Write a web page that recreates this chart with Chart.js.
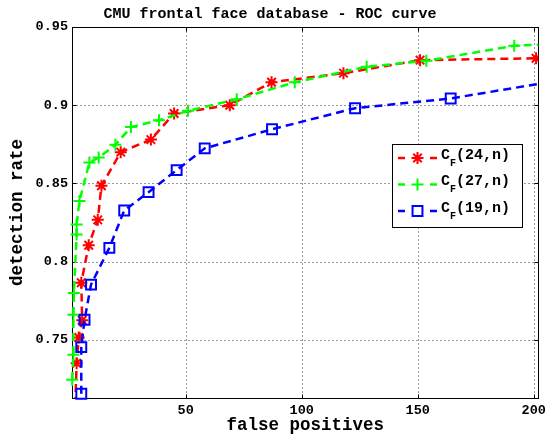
<!DOCTYPE html>
<html>
<head>
<meta charset="utf-8">
<title>CMU frontal face database - ROC curve</title>
<script src="https://cdn.jsdelivr.net/npm/chart.js@4.4.1/dist/chart.umd.min.js"></script>
<style>
  html, body { margin: 0; padding: 0; background: #fff; }
  #wrap { width: 550px; height: 440px; position: relative; }
</style>
</head>
<body>
<div id="wrap"><canvas id="roc"></canvas></div>
<script>
const FONT = "'Liberation Mono', 'DejaVu Sans Mono', monospace";

// C_F(24,n)
const fp24 = [2.2, 3.0, 3.9, 5.4, 5.0, 8.2, 12.1, 13.7, 22.0, 35.0, 45.0, 69.0, 87.0, 118.0, 151.0, 201.0];
const dr24 = [0.700, 0.735, 0.7515, 0.7625, 0.7865, 0.8105, 0.8267, 0.8485, 0.870, 0.878, 0.8947, 0.900, 0.9147, 0.9205, 0.9288, 0.930];

// C_F(27,n)
const fp27 = [1.1, 1.6, 1.6, 1.8, 3.0, 3.0, 4.2, 8.5, 12.5, 19.7, 26.4, 38.5, 51.0, 72.0, 97.0, 128.0, 153.7, 191.6, 215.0];
const dr27 = [0.7244, 0.7404, 0.766, 0.780, 0.8173, 0.8237, 0.8387, 0.8633, 0.8665, 0.8747, 0.886, 0.8904, 0.8964, 0.9038, 0.9146, 0.9246, 0.9284, 0.938, 0.9395];

// C_F(19,n)
const fp19 = [5.0, 5.0, 6.4, 9.2, 17.1, 23.5, 34.0, 46.1, 58.2, 87.2, 123.0, 164.2, 215.0];
const dr19 = [0.7155, 0.7453, 0.7628, 0.7853, 0.8088, 0.8327, 0.8444, 0.8585, 0.8724, 0.8846, 0.8981, 0.9043, 0.9168];

const X_TICKS = [50, 100, 150, 200];
const X_TICK_LABELS = ["50", "100", "150", "200"];
const Y_TICKS = [0.75, 0.8, 0.85, 0.9, 0.95];
const Y_TICK_LABELS = ["0.75", "0.8", "0.85", "0.9", "0.95"];

const LEGEND_BASE = "C";
const LEGEND_SUB = "F";
const LEGEND_ARGS = ["(24,n)", "(27,n)", "(19,n)"];

const pts = (xs, ys) => xs.map((x, i) => ({ x, y: ys[i] }));

function drawMarker(ctx, style, x, y, r, color) {
  ctx.save();
  ctx.strokeStyle = color;
  ctx.lineWidth = 2;
  ctx.beginPath();
  if (style === "rect") {
    const s = Math.SQRT1_2 * r;
    ctx.rect(x - s, y - s, 2 * s, 2 * s);
  } else {
    ctx.moveTo(x - r, y); ctx.lineTo(x + r, y);
    ctx.moveTo(x, y - r); ctx.lineTo(x, y + r);
    if (style === "star") {
      const d = r * Math.SQRT1_2;
      ctx.moveTo(x - d, y - d); ctx.lineTo(x + d, y + d);
      ctx.moveTo(x - d, y + d); ctx.lineTo(x + d, y - d);
    }
  }
  ctx.stroke();
  ctx.restore();
}

// dotted grid, axes box and inward tick marks, under the curves
const boxPlugin = {
  id: "axesBox",
  beforeDatasetsDraw(chart) {
    const { ctx, chartArea: a, scales } = chart;
    const L = Math.round(a.left) + 0.5, R = Math.round(a.right) + 0.5;
    const T = Math.round(a.top) + 0.5, B = Math.round(a.bottom) + 0.5;
    const xs = X_TICKS.map(v => Math.round(scales.x.getPixelForValue(v)) + 0.5);
    const ys = Y_TICKS.map(v => Math.round(scales.y.getPixelForValue(v)) + 0.5);
    ctx.save();
    ctx.lineWidth = 1;

    ctx.strokeStyle = "#333";
    ctx.setLineDash([1, 3]);
    ctx.beginPath();
    xs.forEach(px => { ctx.moveTo(px, T); ctx.lineTo(px, B); });
    ys.forEach(py => { ctx.moveTo(L, py); ctx.lineTo(R, py); });
    ctx.stroke();

    ctx.setLineDash([]);
    ctx.strokeStyle = "#000";
    ctx.strokeRect(L, T, R - L, B - T);
    ctx.beginPath();
    xs.forEach(px => {
      ctx.moveTo(px, B); ctx.lineTo(px, B - 4);
      ctx.moveTo(px, T); ctx.lineTo(px, T + 4);
    });
    ys.forEach(py => {
      ctx.moveTo(L, py); ctx.lineTo(L + 4, py);
      ctx.moveTo(R, py); ctx.lineTo(R - 4, py);
    });
    ctx.stroke();
    ctx.restore();
  }
};

// boxed legend with subscripted names
const legendPlugin = {
  id: "rocLegend",
  afterDraw(chart) {
    const ctx = chart.ctx;
    ctx.save();
    ctx.fillStyle = "#fff";
    ctx.fillRect(392, 145, 130, 83);
    ctx.strokeStyle = "#000";
    ctx.lineWidth = 1;
    ctx.strokeRect(392.5, 144.5, 130, 83);
    chart.data.datasets.forEach((ds, i) => {
      const cy = 158 + i * 26.5;
      ctx.strokeStyle = ds.borderColor;
      ctx.lineWidth = 2.5;
      ctx.beginPath();
      ctx.moveTo(398, cy); ctx.lineTo(405, cy);
      ctx.moveTo(430, cy); ctx.lineTo(437, cy);
      ctx.stroke();
      drawMarker(ctx, ds.pointStyle, 417.5, cy, ds.pointRadius, ds.borderColor);
      ctx.fillStyle = "#000";
      ctx.textBaseline = "middle";
      ctx.font = "bold 15px " + FONT;
      ctx.fillText(LEGEND_BASE, 441, cy - 3);
      ctx.font = "bold 10px " + FONT;
      ctx.fillText(LEGEND_SUB, 450, cy + 5);
      ctx.font = "bold 15px " + FONT;
      ctx.fillText(LEGEND_ARGS[i], 456, cy - 3);
    });
    ctx.restore();
  }
};

const common = {
  showLine: true,
  borderWidth: 2.5,
  borderDash: [8, 5],
  pointBorderWidth: 2,
  pointBackgroundColor: "rgba(0,0,0,0)",
  pointHoverRadius: 6
};

// grid and border come from the axesBox plugin
const hiddenGrid = { drawOnChartArea: false, drawTicks: false };

new Chart(document.getElementById("roc"), {
  type: "scatter",
  data: {
    datasets: [
      { ...common, label: "C_F(24,n)", data: pts(fp24, dr24), borderColor: "#ff0000",
        pointStyle: "star", pointRadius: 6, order: 3, clip: { left: 6, top: 6, right: 0, bottom: 0 } },
      { ...common, label: "C_F(27,n)", data: pts(fp27, dr27), borderColor: "#00ff00",
        pointStyle: "cross", pointRadius: 6, order: 2, clip: { left: 6, top: 6, right: 0, bottom: 6 } },
      { ...common, label: "C_F(19,n)", data: pts(fp19, dr19), borderColor: "#0000ff",
        pointStyle: "rect", pointRadius: 7, order: 1, clip: { left: 6, top: 6, right: 0, bottom: 8 } }
    ]
  },
  options: {
    responsive: true,
    maintainAspectRatio: false,
    animation: false,
    layout: { padding: { left: 0, right: 10, top: 0, bottom: 0 } },
    plugins: {
      legend: { display: false },
      tooltip: { enabled: false },
      title: {
        display: true,
        text: "CMU frontal face database - ROC curve",
        color: "#000",
        font: { family: FONT, size: 15, weight: "bold" },
        padding: { top: 5, bottom: 4 }
      }
    },
    scales: {
      x: {
        type: "linear",
        min: 1,
        max: 202,
        afterBuildTicks: s => { s.ticks = X_TICKS.map(v => ({ value: v })); },
        afterFit: s => { s.height = 42; },
        ticks: {
          color: "#000",
          padding: 4,
          maxRotation: 0,
          font: { family: FONT, size: 13.5, weight: "bold" },
          callback: v => X_TICK_LABELS[X_TICKS.indexOf(v)]
        },
        grid: hiddenGrid,
        border: { display: false },
        title: {
          display: true,
          text: "false positives",
          color: "#000",
          font: { family: FONT, size: 17.5, weight: "bold" },
          padding: { top: 0, bottom: 4 }
        }
      },
      y: {
        type: "linear",
        min: 0.7128,
        max: 0.95,
        afterBuildTicks: s => { s.ticks = Y_TICKS.map(v => ({ value: v })); },
        afterFit: s => { s.width = 72; },
        ticks: {
          color: "#000",
          padding: 4,
          font: { family: FONT, size: 13.5, weight: "bold" },
          callback: v => Y_TICK_LABELS[Y_TICKS.findIndex(t => Math.abs(t - v) < 1e-9)]
        },
        grid: hiddenGrid,
        border: { display: false },
        title: {
          display: true,
          text: "detection rate",
          color: "#000",
          font: { family: FONT, size: 17.5, weight: "bold" },
          padding: { top: 7, bottom: 0 }
        }
      }
    }
  },
  plugins: [boxPlugin, legendPlugin]
});
</script>
</body>
</html>
